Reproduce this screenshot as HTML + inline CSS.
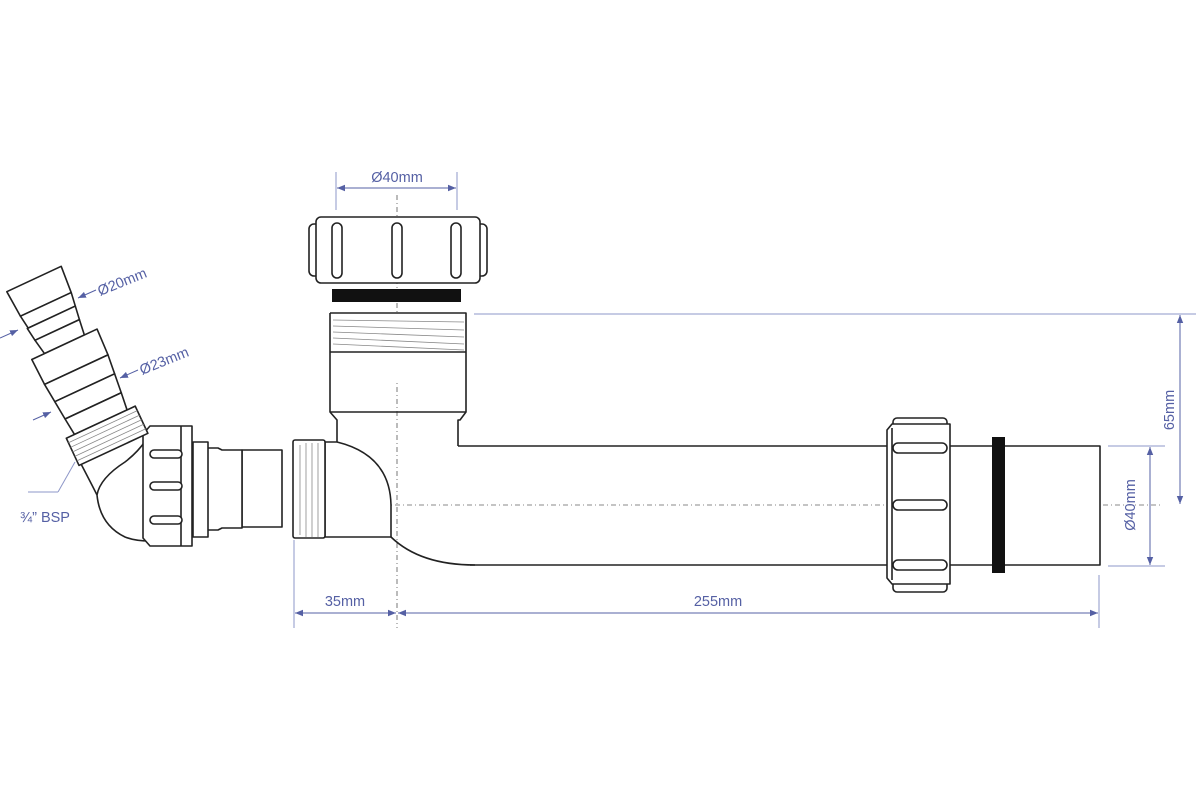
<!DOCTYPE html>
<html><head><meta charset="utf-8"><style>
html,body{margin:0;padding:0;background:#fff;}
svg{display:block;}
text{font-family:"Liberation Sans",Arial,sans-serif;fill:#5560a4;font-size:14.5px;}
</style></head><body>
<svg width="1200" height="800" viewBox="0 0 1200 800" xmlns="http://www.w3.org/2000/svg">
<defs>
<marker id="ar" viewBox="0 0 10 10" refX="10" refY="5" markerWidth="8" markerHeight="8" orient="auto-start-reverse" markerUnits="userSpaceOnUse"><path d="M0,1 L10,5 L0,9 z" fill="#5560a4"/></marker>
</defs>
<g fill="none" stroke="#8e97c8" stroke-width="1">
 <line x1="397" y1="195" x2="397" y2="628" stroke="#777" stroke-dasharray="5,3,1,3"/>
 <line x1="335" y1="505" x2="1160" y2="505" stroke="#888" stroke-dasharray="5,3,1,3"/>
 <line x1="336" y1="172" x2="336" y2="210"/>
 <line x1="457" y1="172" x2="457" y2="210"/>
 <line x1="474" y1="314" x2="1196" y2="314"/>
 <line x1="1108" y1="446" x2="1165" y2="446"/>
 <line x1="1108" y1="566" x2="1165" y2="566"/>
 <line x1="294" y1="540" x2="294" y2="628"/>
 <line x1="1099" y1="575" x2="1099" y2="628"/>
 <line x1="75" y1="462" x2="58" y2="492"/>
 <line x1="58" y1="492" x2="28" y2="492"/>
</g>
<g stroke="#5560a4" stroke-width="1" fill="none">
 <line x1="337" y1="188" x2="456" y2="188" marker-start="url(#ar)" marker-end="url(#ar)"/>
 <line x1="1180" y1="315" x2="1180" y2="504" marker-start="url(#ar)" marker-end="url(#ar)"/>
 <line x1="1150" y1="447" x2="1150" y2="565" marker-start="url(#ar)" marker-end="url(#ar)"/>
 <line x1="295" y1="613" x2="396" y2="613" marker-start="url(#ar)" marker-end="url(#ar)"/>
 <line x1="398" y1="613" x2="1098" y2="613" marker-start="url(#ar)" marker-end="url(#ar)"/>
 <line x1="96" y1="290" x2="78" y2="298" marker-end="url(#ar)"/>
 <line x1="138" y1="370" x2="120" y2="378" marker-end="url(#ar)"/>
 <line x1="0" y1="338" x2="18" y2="330" marker-end="url(#ar)"/>
 <line x1="33" y1="420" x2="51" y2="412" marker-end="url(#ar)"/>
</g>
<text x="397" y="182" text-anchor="middle">Ø40mm</text>
<text x="345" y="606" text-anchor="middle">35mm</text>
<text x="718" y="606" text-anchor="middle">255mm</text>
<text transform="translate(1174,410) rotate(-90)" text-anchor="middle">65mm</text>
<text transform="translate(1135,505) rotate(-90)" text-anchor="middle">Ø40mm</text>
<text transform="translate(100,296) rotate(-22)">Ø20mm</text>
<text transform="translate(142,375) rotate(-22)">Ø23mm</text>
<text x="20" y="522">¾” BSP</text>

<g fill="#fff" stroke="#222" stroke-width="1.6" stroke-linejoin="round">
 <rect x="309" y="224" width="178" height="52" rx="5"/>
 <rect x="316" y="217" width="164" height="66" rx="5"/>
 <rect x="332" y="223" width="10" height="55" rx="5"/>
 <rect x="392" y="223" width="10" height="55" rx="5"/>
 <rect x="451" y="223" width="10" height="55" rx="5"/>
 <rect x="332" y="289" width="129" height="13" fill="#111" stroke="none"/>
 <path d="M330,313 H466 V412 L460,420 H458 V446 M337,446 V420 L330,412 V313"/>
 <line x1="330" y1="352" x2="466" y2="352"/>
 <line x1="330" y1="412" x2="466" y2="412"/>
 <path d="M458,446 H888 M470,565 H888" fill="none"/>
 <path d="M946,446 H1100 V565 H946" />
 <path d="M325,442 H337 Q390,455 391,505 V537 H325 Z"/>
 <path d="M391,537 Q420,565 475,565" fill="none"/>
 <rect x="293" y="440" width="32" height="98" rx="2"/>
 <rect x="893" y="418" width="54" height="174" rx="4"/>
 <path d="M892,424 H950 V584 H892 L887,578 V430 Z"/>
 <line x1="892" y1="428" x2="892" y2="580"/>
 <rect x="893" y="443" width="54" height="10" rx="5"/>
 <rect x="893" y="500" width="54" height="10" rx="5"/>
 <rect x="893" y="560" width="54" height="10" rx="5"/>
 <rect x="992" y="437" width="13" height="136" fill="#111" stroke="none"/>
 <!-- left elbow body -->
 <path d="M80,462 Q92,485 97,495 Q100,525 125,537 Q135,541 150,541 L150,440 L146,440 Q138,452 125,462 Q100,478 97,495" />
 <rect x="242" y="450" width="40" height="77"/>
 <path d="M207,448 L218,448 L222,450 H242 V528 H222 L218,530 H207 Z"/>
 <rect x="193" y="442" width="15" height="95"/>
 <path d="M150,426 H192 V546 H150 L143,538 V434 Z"/>
 <line x1="181" y1="426" x2="181" y2="546"/>
 <rect x="150" y="450" width="32" height="8" rx="4"/>
 <rect x="150" y="482" width="32" height="8" rx="4"/>
 <rect x="150" y="516" width="32" height="8" rx="4"/>
 <g transform="translate(34,279) rotate(-25)">
  <path d="M-30,0 H30 L28,28 H-28 Z"/>
  <path d="M-28,28 H28 L26,42 H-26 Z"/>
  <path d="M-27,42 H26 L24,56 H-25 Z"/>
  <path d="M-25,56 H24 L22,72 H-22 Z"/>
  <path d="M-36,72 H36 L35,100 H-35 Z"/>
  <path d="M-35,100 H35 L33,120 H-33 Z"/>
  <path d="M-33,120 H33 L31,140 H-31 Z"/>
  <path d="M-31,140 H31 L29,158 H-29 Z"/>
  <rect x="-38" y="158" width="76" height="30"/>
  <g stroke="#888" stroke-width="0.8">
   <line x1="-38" y1="163" x2="38" y2="163"/><line x1="-38" y1="168" x2="38" y2="168"/>
   <line x1="-38" y1="173" x2="38" y2="173"/><line x1="-38" y1="178" x2="38" y2="178"/>
   <line x1="-38" y1="183" x2="38" y2="183"/>
  </g>
 </g>
</g>
<g stroke="#888" stroke-width="0.8" fill="none">
 <line x1="333" y1="320" x2="464" y2="322"/><line x1="333" y1="326" x2="464" y2="330"/>
 <line x1="333" y1="332" x2="464" y2="337"/><line x1="333" y1="338" x2="464" y2="344"/>
 <line x1="333" y1="344" x2="464" y2="350"/>
 <line x1="300" y1="445" x2="300" y2="535"/><line x1="306" y1="443" x2="306" y2="537"/>
 <line x1="312" y1="443" x2="312" y2="537"/><line x1="318" y1="443" x2="318" y2="537"/>
</g>
</svg>
</body></html>
